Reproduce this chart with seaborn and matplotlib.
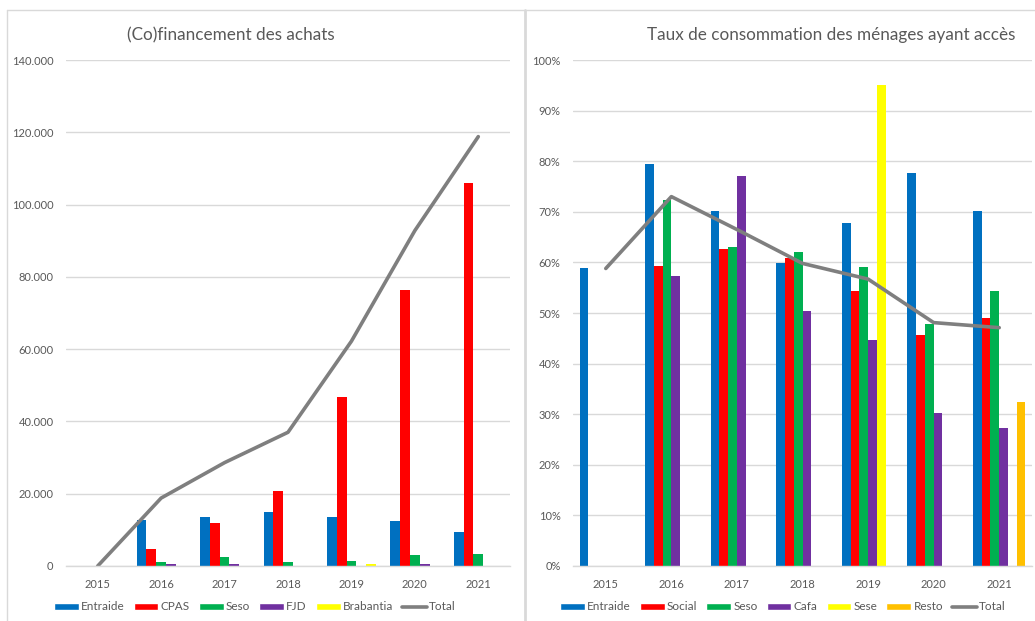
import numpy as np
import pandas as pd
import matplotlib
matplotlib.use("Agg")
import matplotlib.pyplot as plt
import seaborn as sns
from matplotlib.patches import Patch
from matplotlib.lines import Line2D
from matplotlib.ticker import FuncFormatter, FixedLocator

# ======================
# Data
# ======================
years = ["2015", "2016", "2017", "2018", "2019", "2020", "2021"]
nan = np.nan

# Left panel: (co)financement des achats
fin_series = ["Entraide", "CPAS", "Seso", "FJD", "Brabantia"]
fin_entraide = [nan, 12700, 13600, 14900, 13600, 12400, 9300]
fin_cpas = [nan, 4600, 12000, 20700, 46800, 76500, 106000]
fin_seso = [nan, 1000, 2400, 1000, 1300, 3100, 3300]
fin_fjd = [nan, 500, 600, nan, nan, 600, nan]
fin_brabantia = [nan, nan, nan, nan, 500, nan, nan]
fin_total = [0, 18800, 28600, 37000, 62200, 92800, 118800]

# Right panel: taux de consommation
taux_series = ["Entraide", "Social", "Seso", "Cafa", "Sese", "Resto"]
taux_entraide = [0.588, 0.794, 0.701, 0.599, 0.678, 0.777, 0.702]
taux_social = [nan, 0.593, 0.626, 0.608, 0.543, 0.457, 0.491]
taux_seso = [nan, 0.723, 0.630, 0.621, 0.590, 0.478, 0.544]
taux_cafa = [nan, 0.574, 0.770, 0.503, 0.447, 0.302, 0.273]
taux_sese = [nan, nan, nan, nan, 0.950, nan, nan]
taux_resto = [nan, nan, nan, nan, nan, nan, 0.325]
taux_total = [0.588, 0.730, 0.665, 0.598, 0.567, 0.481, 0.471]

colors = {
    "Entraide": "#0070C0", "CPAS": "#FF0000", "Social": "#FF0000",
    "Seso": "#00B050", "FJD": "#7030A0", "Cafa": "#7030A0",
    "Brabantia": "#FFFF00", "Sese": "#FFFF00", "Resto": "#FFC000",
}
total_color = "#7F7F7F"
grid_color = "#D9D9D9"
text_color = "#595959"

fin_df = pd.DataFrame({"year": years, "Entraide": fin_entraide, "CPAS": fin_cpas,
                       "Seso": fin_seso, "FJD": fin_fjd, "Brabantia": fin_brabantia})
fin_long = fin_df.melt(id_vars="year", var_name="series", value_name="value")

taux_df = pd.DataFrame({"year": years, "Entraide": taux_entraide, "Social": taux_social,
                        "Seso": taux_seso, "Cafa": taux_cafa, "Sese": taux_sese,
                        "Resto": taux_resto})
taux_long = taux_df.melt(id_vars="year", var_name="series", value_name="value")

# ======================
# Figure
# ======================
sns.set_style("white")
plt.rcParams["font.family"] = ["Lato", "DejaVu Sans"]

fig = plt.figure(figsize=(10.35, 6.21), dpi=100)
W, H = 1035, 621


def px_axes(x0, y0, x1, y1):
    return fig.add_axes([x0 / W, 1 - y1 / H, (x1 - x0) / W, (y1 - y0) / H])


def style_axis(ax):
    ax.set_xlim(-0.5, len(years) - 0.5)
    for side in ["top", "right", "left"]:
        ax.spines[side].set_visible(False)
    ax.spines["bottom"].set_color(grid_color)
    ax.spines["bottom"].set_linewidth(1)
    ax.yaxis.grid(True, color=grid_color, linewidth=1)
    ax.set_axisbelow(True)
    ax.tick_params(axis="both", which="major", length=0, labelsize=8,
                   labelcolor=text_color)
    ax.tick_params(axis="x", pad=9)
    ax.tick_params(axis="y", pad=9)
    ax.xaxis.set_minor_locator(FixedLocator(np.arange(-0.5, len(years), 1)))
    ax.tick_params(axis="x", which="minor", length=5, color=grid_color, width=1)
    ax.set_xlabel("")
    ax.set_ylabel("")


def add_legend(ax, names, center_x):
    handles = [Patch(facecolor=colors[s], label=s) for s in names]
    handles.append(Line2D([], [], color=total_color, linewidth=2.6, label="Total"))
    ax.legend(handles=handles, ncol=len(handles), loc="center",
              bbox_to_anchor=(center_x / W, 1 - 607 / H),
              bbox_transform=fig.transFigure, frameon=False, fontsize=8.5,
              labelcolor=text_color, handlelength=2.1, handleheight=0.6,
              handletextpad=0.2, columnspacing=0.75)


# --- Left: (Co)financement des achats
ax1 = px_axes(66, 60, 510, 566)
sns.barplot(data=fin_long, x="year", y="value", hue="series", order=years,
            hue_order=fin_series, palette=colors, saturation=1, width=0.77,
            linewidth=0, legend=False, ax=ax1)
sns.lineplot(x=np.arange(len(years)), y=fin_total, color=total_color,
             linewidth=2.6, ax=ax1)
ax1.set_ylim(0, 140000)
ax1.set_yticks(np.arange(0, 140001, 20000))
ax1.yaxis.set_major_formatter(FuncFormatter(lambda v, p: f"{int(v):,}".replace(",", ".")))
style_axis(ax1)
fig.text(231 / W, 1 - 35 / H, "(Co)financement des achats", ha="center", va="center",
         fontsize=12.3, color=text_color)
add_legend(ax1, fin_series, 255)

# --- Right: Taux de consommation
ax2 = px_axes(573, 60, 1032, 566)
sns.barplot(data=taux_long, x="year", y="value", hue="series", order=years,
            hue_order=taux_series, palette=colors, saturation=1, width=0.8,
            linewidth=0, legend=False, ax=ax2)
sns.lineplot(x=np.arange(len(years)), y=taux_total, color=total_color,
             linewidth=2.6, ax=ax2)
ax2.set_ylim(0, 1.0)
ax2.set_yticks(np.arange(0, 1.01, 0.1))
ax2.yaxis.set_major_formatter(FuncFormatter(lambda v, p: f"{v * 100:.0f}%"))
style_axis(ax2)
fig.text(831 / W, 1 - 35 / H, "Taux de consommation des ménages ayant accès",
         ha="center", va="center", fontsize=12.3, color=text_color)
add_legend(ax2, taux_series, 783)

# --- Panel frames
frame = "#D9D9D9"
fig.add_artist(Line2D([7 / W, 1], [1 - 10 / H, 1 - 10 / H], color=frame, linewidth=1,
                      transform=fig.transFigure))
fig.add_artist(Line2D([7 / W, 7 / W], [0, 1 - 10 / H], color=frame, linewidth=1,
                      transform=fig.transFigure))
fig.add_artist(Line2D([525 / W, 525 / W], [0, 1 - 10 / H], color=frame, linewidth=2,
                      transform=fig.transFigure))

fig.savefig("out.png", dpi=100)
